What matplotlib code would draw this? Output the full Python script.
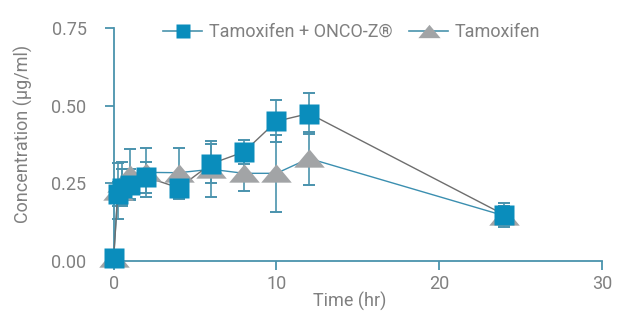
import numpy as np
import matplotlib
matplotlib.use('Agg')
import matplotlib.pyplot as plt
from matplotlib.lines import Line2D

# data
time_hr = [0, 0.25, 0.5, 1, 2, 4, 6, 8, 10, 12, 24]
combo = [0.01, 0.215, 0.235, 0.245, 0.27, 0.235, 0.313, 0.351, 0.45, 0.475, 0.148]
combo_err = [0.0, 0.04, 0.06, 0.05, 0.05, 0.035, 0.063, 0.04, 0.068, 0.065, 0.039]
tamox = [0.01, 0.225, 0.25, 0.28, 0.285, 0.284, 0.295, 0.282, 0.282, 0.33, 0.145]
tamox_err = [0.0, 0.09, 0.07, 0.08, 0.078, 0.08, 0.09, 0.057, 0.125, 0.085, 0.03]

x_ticks = [0, 10, 20, 30]
y_ticks = [0.0, 0.25, 0.5, 0.75]

BLUE = '#0a8dbc'
GRAY = '#a2a4a6'
TEAL = '#4a93ad'
TXT = '#808080'

plt.rcParams['font.family'] = ['Roboto', 'DejaVu Sans']

fig = plt.figure(figsize=(6.24, 3.18), dpi=100)
ax = fig.add_axes([113.7 / 624, 1 - 260.7 / 318, (602 - 113.7) / 624, (260.7 - 28.3) / 318])

# flattened triangle marker
tri = [(-1, -0.6), (1, -0.6), (0, 0.6), (-1, -0.6)]

# error bars under the markers
ax.errorbar(time_hr, tamox, yerr=tamox_err, fmt='none', ecolor=TEAL, elinewidth=1.2,
            capsize=4, capthick=1.4, zorder=2, clip_on=False)
ax.errorbar(time_hr, combo, yerr=combo_err, fmt='none', ecolor=TEAL, elinewidth=1.2,
            capsize=4, capthick=1.4, zorder=2, clip_on=False)

# connecting lines
ax.plot(time_hr, tamox, color='#3b8fb0', lw=1.0, zorder=3, clip_on=False)
ax.plot(time_hr, combo, color='#6e6e6e', lw=1.0, zorder=3, clip_on=False)

# markers
ax.plot(time_hr, tamox, ls='none', marker=tri, ms=22, mfc=GRAY, mec='none', zorder=4, clip_on=False)
ax.plot(time_hr, combo, ls='none', marker='s', ms=14.5, mfc=BLUE, mec='none', zorder=5, clip_on=False)

ax.set_xlim(0, 30)
ax.set_ylim(0, 0.75)
ax.set_xticks(x_ticks)
ax.set_yticks(y_ticks)
ax.set_yticklabels([f'{v:.2f}' for v in y_ticks])

for s in ['top', 'right']:
    ax.spines[s].set_visible(False)
for s in ['left', 'bottom']:
    ax.spines[s].set_color(TEAL)
    ax.spines[s].set_linewidth(1.3)

ax.tick_params(axis='both', colors=TEAL, labelcolor=TXT, labelsize=13, length=6.5, width=1.3)
ax.tick_params(axis='y', pad=13)
ax.tick_params(axis='x', pad=4)

fig.text(23 / 624, 1 - 134 / 318, 'Concentration (µg/ml)', rotation=90, ha='center', va='center',
         color=TXT, fontsize=13)
fig.text(350 / 624, 1 - 301 / 318, 'Time (hr)', ha='center', va='center', color=TXT, fontsize=13)

handles = [
    Line2D([], [], color=TEAL, lw=1.2, marker='s', ms=10.5, mfc=BLUE, mec='none'),
    Line2D([], [], color=TEAL, lw=1.2, marker=tri, ms=16, mfc=GRAY, mec='none'),
]
leg = ax.legend(handles, ['Tamoxifen + ONCO-Z®', 'Tamoxifen'], ncol=2, frameon=False,
                loc='center', bbox_to_anchor=(0.487, 0.984), fontsize=13, handlelength=2.2,
                handletextpad=0.35, columnspacing=0.9, labelcolor=TXT)

fig.savefig('out.png', dpi=100)
